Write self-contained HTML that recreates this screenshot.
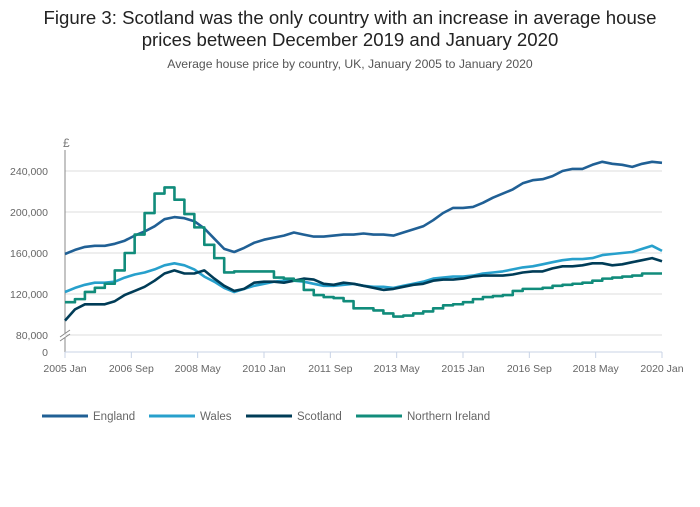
<!DOCTYPE html>
<html><head><meta charset="utf-8"><style>
body{margin:0;background:#fff;font-family:"Liberation Sans",sans-serif;}
svg text{font-family:"Liberation Sans",sans-serif;}
</style></head><body>
<svg id="chart" width="700" height="502" viewBox="0 0 700 502" xmlns="http://www.w3.org/2000/svg">
<text x="350" y="24" text-anchor="middle" font-size="18.6" fill="#222">Figure 3: Scotland was the only country with an increase in average house</text>
<text x="350" y="46" text-anchor="middle" font-size="18.6" fill="#222">prices between December 2019 and January 2020</text>
<text x="350" y="68" text-anchor="middle" font-size="12.2" fill="#555">Average house price by country, UK, January 2005 to January 2020</text>
<text x="63" y="147" font-size="12" fill="#777">£</text>
<g id="grid"></g><g id="axes"></g><g id="series"></g><g id="legend"></g>
</svg>
<script>
const yTicks=[80000,120000,160000,200000,240000];
const xTickLabels=["2005 Jan","2006 Sep","2008 May","2010 Jan","2011 Sep","2013 May","2015 Jan","2016 Sep","2018 May","2020 Jan"];
const xTickMonths=[0,20,40,60,80,100,120,140,160,180];
const seriesNames=["England","Wales","Scotland","Northern Ireland"];
const seriesColors=["#206095","#27a0cc","#003c57","#118c7b"];
const england=[159,163,166,167,167,169,172,177,181,186,193,195,194,191,184,174,164,161,165,170,173,175,177,180,178,176,176,177,178,178,179,178,178,177,180,183,186,192,199,204,204,205,209,214,218,222,228,231,232,235,240,242,242,246,249,247,246,244,247,249,248];
const wales=[122,126,129,131,131,132,136,139,141,144,148,150,148,144,137,132,126,122,125,128,130,132,133,133,132,130,128,128,129,130,128,127,127,126,128,130,132,135,136,137,137,138,140,141,142,144,146,147,149,151,153,154,154,155,158,159,160,161,164,167,162];
const scotland=[94,105,110,110,110,113,119,123,127,133,140,143,140,140,143,135,128,123,125,131,132,132,131,133,135,134,130,129,131,130,128,126,124,125,127,129,130,133,134,134,135,137,138,138,138,139,141,142,142,145,147,147,148,150,150,148,149,151,153,155,152];
const nireland=[112,115,122,126,130,143,160,178,199,218,224,212,198,185,168,155,141,142,142,142,142,136,135,133,124,119,117,116,113,106,106,104,101,98,99,101,103,106,109,110,112,115,117,118,119,123,125,125,126,128,129,130,131,133,135,136,137,138,140,140,140];
const NS="http://www.w3.org/2000/svg";
const x=m=>65+m*(597/180);
const y=v=>171+(240000-v)*(41/40000);
function mk(t,a,p){const e=document.createElementNS(NS,t);for(const k in a)e.setAttribute(k,a[k]);p.appendChild(e);return e;}
const grid=document.getElementById('grid'),axes=document.getElementById('axes'),ser=document.getElementById('series'),leg=document.getElementById('legend');
yTicks.forEach(v=>{
 const l=mk('line',{x1:65,x2:662,y1:y(v),y2:y(v),stroke:'#dcdcdc','stroke-width':1},grid);
 
 
 const t=mk('text',{x:48,y:y(v)+4,'text-anchor':'end','font-size':10.5,fill:'#666'},axes);
 t.textContent=v.toLocaleString('en-GB');
 
 
});
const z=mk('text',{x:48,y:356,'text-anchor':'end','font-size':10.5,fill:'#666'},axes);z.textContent='0';


const ya=mk('path',{d:'M65 150 V333 M65 338 V352',stroke:'#888','stroke-width':1,fill:'none'},axes);


const br=mk('path',{d:'M60 337 L70 330 M60 341 L70 334',stroke:'#888','stroke-width':1,fill:'none'},axes);


const xa=mk('line',{x1:65,x2:662,y1:352,y2:352,stroke:'#c8d3e6','stroke-width':1},axes);


xTickMonths.forEach((m,i)=>{
 const tk=mk('line',{x1:x(m),x2:x(m),y1:352,y2:358,stroke:'#c8d3e6'},axes);
 
 
 const t=mk('text',{x:x(m),y:372,'text-anchor':'middle','font-size':10.5,fill:'#666'},axes);
 t.textContent=xTickLabels[i];
 
 
});
const data=[england,wales,scotland,nireland];
data.forEach((arr,si)=>{
 let d='';
 arr.forEach((v,i)=>{
  const px=x(i*3),py=y(v*1000);
  if(si===3){ d+= i===0?`M${px} ${py}`:`H${px} V${py}`; }
  else d+=(i?'L':'M')+px.toFixed(1)+' '+py.toFixed(1);
 });
 const p=mk('path',{d:d,fill:'none',stroke:seriesColors[si],'stroke-width':2.6,'stroke-linejoin':'round'},ser);
 
 
});
const lx=[42,149,246,356];
seriesNames.forEach((n,i)=>{
 const l=mk('line',{x1:lx[i],x2:lx[i]+46,y1:416,y2:416,stroke:seriesColors[i],'stroke-width':3},leg);
 
 
 const t=mk('text',{x:lx[i]+51,y:420,'font-size':11.5,fill:'#666'},leg);
 t.textContent=n;
 
 
});
</script>
</body></html>
